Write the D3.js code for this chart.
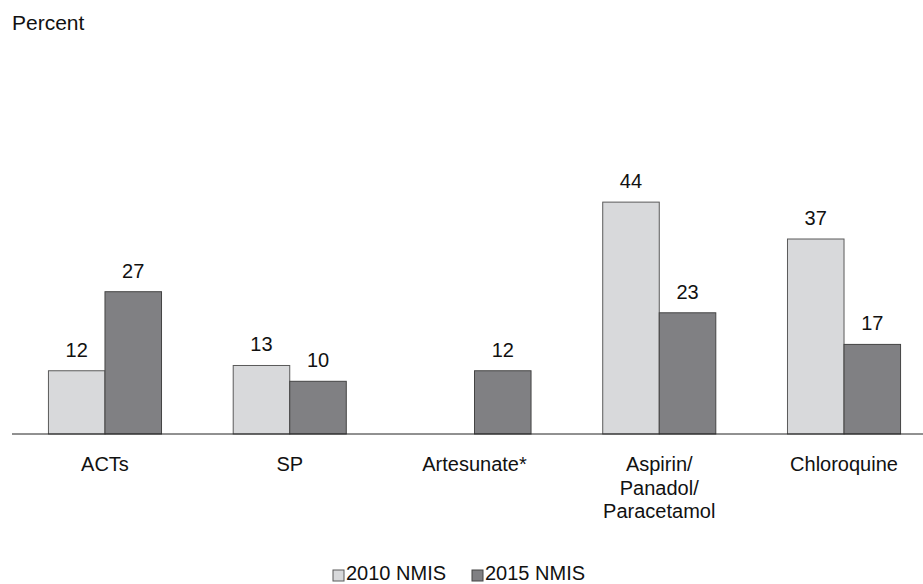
<!DOCTYPE html>
<html>
<head>
<meta charset="utf-8">
<script src="https://cdn.jsdelivr.net/npm/d3@7"></script>
<style>
  html, body { margin: 0; padding: 0; background: #fff; }
  svg { display: block; font-family: "Liberation Sans", Arial, sans-serif; }
</style>
</head>
<body>
<svg id="chart" width="923" height="584"></svg>
<script>
// Treatments given for fever, by survey round
const categories = ["ACTs", "SP", "Artesunate*", "Aspirin/\nPanadol/\nParacetamol", "Chloroquine"];
const seriesNames = ["2010 NMIS", "2015 NMIS"];
const values2010 = [12, 13, null, 44, 37];
const values2015 = [27, 10, 12, 23, 17];
const seriesColors = ["#d8d9db", "#808083"];
const seriesStroke = ["#5a5a5a", "#444444"];

const svg = d3.select("#chart");
const baseline = 434;

const x0 = d3.scaleBand()
  .domain(categories)
  .range([12.6, 936.4])
  .paddingInner(0.388)
  .paddingOuter(0.194);

const x1 = d3.scaleBand()
  .domain(seriesNames)
  .range([0, x0.bandwidth()]);

const y = d3.scaleLinear()
  .domain([0, 50])
  .range([baseline, baseline - 263.5]);

// y-axis title
svg.append("text")
  .attr("x", 12).attr("y", 30)
  .attr("font-size", 21).attr("fill", "#111")
  .text("Percent");

const seriesData = [values2010, values2015];

const groups = svg.append("g").selectAll("g")
  .data(categories)
  .join("g")
  .attr("transform", d => `translate(${x0(d)},0)`);

groups.each(function(cat, ci) {
  const g = d3.select(this);
  seriesNames.forEach((s, si) => {
    const v = seriesData[si][ci];
    if (v == null) return;
    g.append("rect")
      .attr("x", x1(s))
      .attr("y", y(v))
      .attr("width", x1.bandwidth())
      .attr("height", y(0) - y(v))
      .attr("fill", seriesColors[si])
      .attr("stroke", seriesStroke[si])
      .attr("stroke-width", 1);
    g.append("text")
      .attr("x", x1(s) + x1.bandwidth() / 2)
      .attr("y", y(v) - 14)
      .attr("text-anchor", "middle")
      .attr("font-size", 20)
      .attr("fill", "#111")
      .text(v);
  });
});

// baseline
svg.append("line")
  .attr("x1", 12).attr("x2", 923)
  .attr("y1", baseline).attr("y2", baseline)
  .attr("stroke", "#222").attr("stroke-width", 1);

// category labels
categories.forEach(cat => {
  const cx = x0(cat) + x0.bandwidth() / 2;
  const t = svg.append("text")
    .attr("text-anchor", "middle")
    .attr("font-size", 20)
    .attr("fill", "#111");
  cat.split("\n").forEach((line, i) => {
    t.append("tspan").attr("x", cx).attr("y", 471 + i * 23.5).text(line);
  });
});

// legend
const legend = svg.append("g");
const legendX = [333, 472];
seriesNames.forEach((s, i) => {
  legend.append("rect")
    .attr("x", legendX[i]).attr("y", 570)
    .attr("width", 11).attr("height", 11)
    .attr("fill", seriesColors[i])
    .attr("stroke", seriesStroke[i]).attr("stroke-width", 1);
  legend.append("text")
    .attr("x", legendX[i] + 13).attr("y", 580)
    .attr("font-size", 20).attr("fill", "#111")
    .text(s);
});
</script>
</body>
</html>
